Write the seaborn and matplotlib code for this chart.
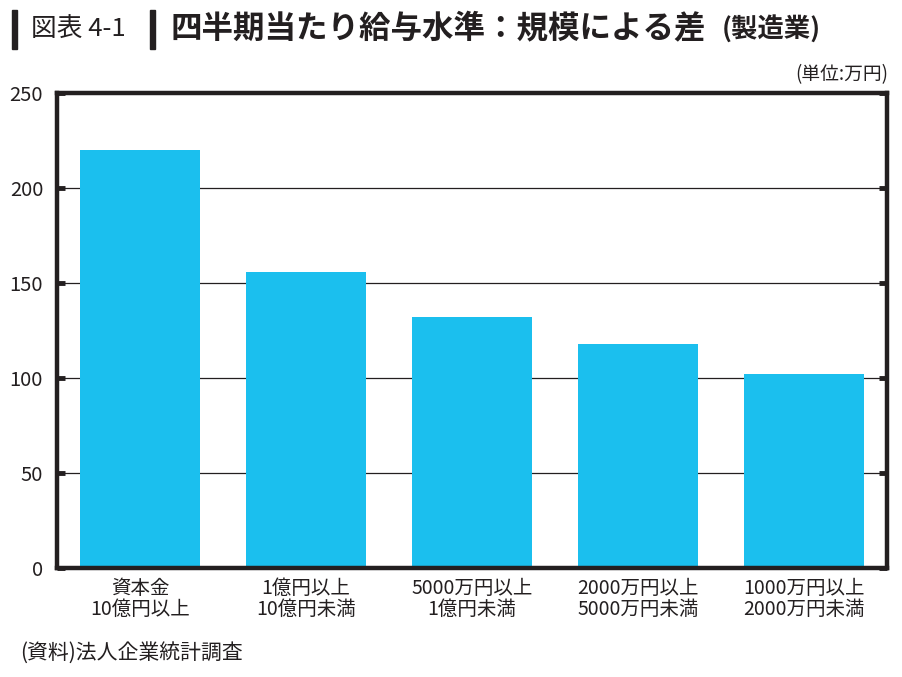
import matplotlib
matplotlib.use("Agg")
import matplotlib.pyplot as plt
import seaborn as sns
import pandas as pd
from matplotlib.patches import Rectangle

# ====================== DATA ======================
categories = [
    "資本金\n10億円以上",
    "1億円以上\n10億円未満",
    "5000万円以上\n1億円未満",
    "2000万円以上\n5000万円未満",
    "1000万円以上\n2000万円未満",
]
salary = [220, 156, 132, 118, 102]
y_ticks = [0, 50, 100, 150, 200, 250]

df = pd.DataFrame({"size": categories, "salary": salary})

# ====================== STYLE ======================
sns.set_theme(style="white")
plt.rcParams["font.family"] = ["Noto Sans CJK JP", "DejaVu Sans"]

BAR_COLOR = "#1BBFEE"
INK = "#231F20"

fig = plt.figure(figsize=(9.03, 6.77), dpi=100)
ax = fig.add_axes([0.0631, 0.161, 0.9192, 0.7015])

sns.barplot(data=df, x="size", y="salary", color=BAR_COLOR, saturation=1,
            width=0.72, edgecolor="none", ax=ax, zorder=3)

ax.set_xlim(-0.5, len(categories) - 0.5)
ax.set_ylim(0, 250)
ax.set_yticks(y_ticks)
ax.set_yticklabels([str(v) for v in y_ticks], fontsize=14.5, color=INK)
ax.set_xlabel("")
ax.set_ylabel("")
ax.tick_params(axis="x", length=0, pad=7, labelsize=14, labelcolor=INK)
ax.tick_params(axis="y", direction="in", length=6, width=3.5, color=INK,
               right=True, left=True, pad=10)

for v in y_ticks[1:-1]:
    ax.axhline(v, color=INK, lw=0.9, zorder=1)

for s in ax.spines.values():
    s.set_visible(True)
    s.set_color(INK)
    s.set_linewidth(3.2)
    s.set_zorder(4)

for lbl in ax.get_xticklabels():
    lbl.set_linespacing(1.0)

# ====================== TITLE ======================
for bx in (12, 150):
    fig.patches.append(Rectangle((bx / 903, 1 - 49 / 677), 5 / 903, 39 / 677,
                                 transform=fig.transFigure, color=INK))
fig.text(31 / 903, 1 - 30 / 677, "図表 4-1", fontsize=18.5, va="center",
         ha="left", color=INK)
fig.text(171 / 903, 1 - 29 / 677, "四半期当たり給与水準：規模による差",
         fontsize=22.7, fontweight="bold", va="center", ha="left", color=INK)
fig.text(722 / 903, 1 - 30 / 677, "(製造業)", fontsize=19,
         fontweight="bold", va="center", ha="left", color=INK)

fig.text(888 / 903, 1 - 75 / 677, "(単位:万円)", fontsize=13.5,
         ha="right", va="center", color=INK)
fig.text(20 / 903, 1 - 653 / 677, "(資料)法人企業統計調査", fontsize=15,
         ha="left", va="center", color=INK)

fig.savefig("out.png", dpi=100)
plt.close(fig)
